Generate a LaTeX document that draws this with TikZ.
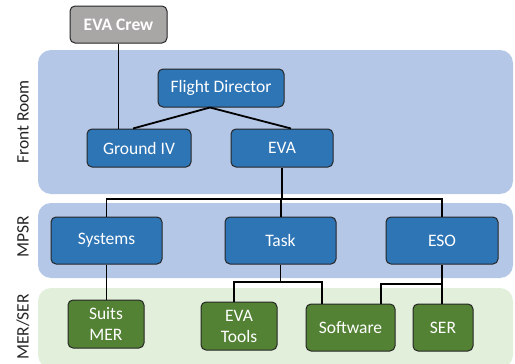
\documentclass[tikz,border=0pt]{standalone}
\usepackage{fontspec}
\setmainfont{Carlito}
\definecolor{bandblue}{HTML}{B4C7E7}
\definecolor{bandgreen}{HTML}{E2EFDA}
\definecolor{boxblue}{HTML}{2E75B6}
\definecolor{boxgreen}{HTML}{548235}
\definecolor{boxgray}{HTML}{A9A6A6}
\tikzset{
	role/.style={draw=black!85, line width=1pt, rounded corners=5pt, text=white,
		font=\fontsize{17.5}{21}\selectfont, align=center, inner sep=0pt},
	bluebox/.style={role, fill=boxblue},
	greenbox/.style={role, fill=boxgreen},
	band/.style={rounded corners=13pt},
	roomlabel/.style={rotate=90, font=\fontsize{17.5}{20}\selectfont, text=black!85},
	link/.style={line width=1.8pt}
}

\begin{document}
\begin{tikzpicture}[x=1pt, y=-1pt]
	\useasboundingbox (0,0) rectangle (515,364);

	%BANDS
	\fill[band, bandblue] (38,50) rectangle (513,194);
	\fill[band, bandblue] (38,203) rectangle (513,278);
	\fill[band, bandgreen] (38,288) rectangle (513,368);

	\node[roomlabel] (frontlbl) at (23,122) {Front Room};
	\node[roomlabel] (mpsrlbl) at (23,237) {MPSR};
	\node[roomlabel] (merlbl) at (23,327) {MER/SER};

	%BOXES
	\node[role, fill=boxgray, font=\fontsize{17.5}{21}\selectfont\bfseries,
		minimum width=97pt, minimum height=37pt] (crew) at (118.5,24.5) {EVA Crew};
	\node[bluebox, minimum width=126pt, minimum height=38pt] (fd) at (221,88) {Flight Director};
	\node[bluebox, minimum width=104pt, minimum height=38pt] (ground) at (139,148) {Ground IV};
	\node[bluebox, minimum width=102pt, minimum height=38pt] (eva) at (282,148) {EVA};

	\node[bluebox, minimum width=111pt, minimum height=47pt] (systems) at (106.5,240.5) {Systems};
	\node[bluebox, minimum width=111pt, minimum height=47pt] (task) at (280.5,240.5) {Task};
	\node[bluebox, minimum width=112pt, minimum height=47pt] (eso) at (442,240.5) {ESO};

	\node[greenbox, minimum width=76pt, minimum height=48pt] (suits) at (106,324) {Suits\\MER};
	\node[greenbox, minimum width=76pt, minimum height=48pt] (tools) at (239,326) {EVA\\Tools};
	\node[greenbox, minimum width=89pt, minimum height=47pt] (software) at (350.5,327.5) {Software};
	\node[greenbox, minimum width=60pt, minimum height=47pt] (ser) at (443,327.5) {SER};

	%LINES
	\coordinate (bus) at (281,199);
	\coordinate (taskjoin) at (281,282);
	\coordinate (esojoin) at (442,284);

	\draw[link] (crew.south) -- (crew.south |- ground.north);
	\draw[link] ([xshift=-11pt]fd.south) -- ([xshift=-6pt]ground.north);
	\draw[link] ([xshift=-11pt]fd.south) -- ([xshift=9pt]eva.north);

	\draw[link] (eva.south) -- (eva.south |- bus);
	\draw[link] (systems.north) |- (bus) -| (eso.north);
	\draw[link] (bus) -- (bus |- task.north);

	\draw[link] (systems.south) -- (systems.south |- suits.north);
	\draw[link] (task.south) -- (task.south |- taskjoin);
	\draw[link] ([xshift=-5pt]tools.north) |- (taskjoin) -| ([xshift=-28.5pt]software.north);
	\draw[link] (eso.south) -- (eso.south |- ser.north);
	\draw[link] ([xshift=30.5pt]software.north) |- (esojoin);
\end{tikzpicture}
\end{document}
